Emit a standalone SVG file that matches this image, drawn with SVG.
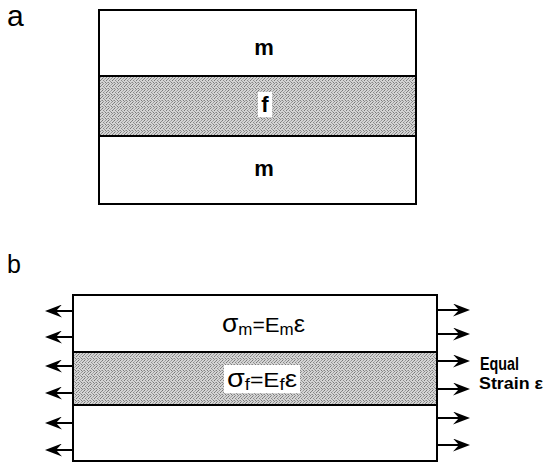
<svg xmlns="http://www.w3.org/2000/svg" width="549" height="465" viewBox="0 0 549 465">
  <style>
    .lbl { font-family: "Liberation Sans", Arial, sans-serif; fill: #000; }
    .box { fill: #fff; stroke: #000; stroke-width: 2; }
    .fib { fill: url(#stip); stroke: #000; stroke-width: 2; }
    .arr { stroke: #000; stroke-width: 2; fill: none; marker-end: url(#ah); }
  </style>
  <defs>
    <pattern id="stip" width="6" height="6" patternUnits="userSpaceOnUse">
      <rect width="6" height="6" fill="#d4d4d4"/>
      <rect x="0" y="0" width="1" height="1" fill="#777"/>
      <rect x="3" y="0" width="1" height="1" fill="#999"/>
      <rect x="5" y="1" width="1" height="1" fill="#888"/>
      <rect x="1" y="2" width="1" height="1" fill="#8a8a8a"/>
      <rect x="4" y="2" width="1" height="1" fill="#777"/>
      <rect x="2" y="3" width="1" height="1" fill="#999"/>
      <rect x="0" y="4" width="1" height="1" fill="#888"/>
      <rect x="3" y="4" width="1" height="1" fill="#7a7a7a"/>
      <rect x="5" y="4" width="1" height="1" fill="#aaa"/>
      <rect x="1" y="5" width="1" height="1" fill="#999"/>
      <rect x="4" y="5" width="1" height="1" fill="#888"/>
      <rect x="2" y="1" width="1" height="1" fill="#aaa"/>
    </pattern>
    <marker id="ah" viewBox="0 0 17 13" refX="10" refY="6.5" markerWidth="17" markerHeight="13" markerUnits="userSpaceOnUse" orient="auto">
      <path d="M0,0 L17,6.5 L0,13 L6,6.5 Z" fill="#000"/>
    </marker>
  </defs>
  <rect width="549" height="465" fill="#fff"/>

  <!-- Panel a -->
  <text class="lbl" x="7" y="26" font-size="30">a</text>
  <g id="a-matrix-top">
    <rect class="box" x="99" y="10" width="317" height="66"/>
    <text class="lbl" x="264" y="55" font-size="22" font-weight="bold" text-anchor="middle">m</text>
  </g>
  <g id="a-fiber">
    <rect class="fib" x="99" y="76" width="317" height="60"/>
    <rect x="258" y="92" width="14" height="25" fill="#fff"/>
    <text class="lbl" x="265" y="112" font-size="22" font-weight="bold" text-anchor="middle">f</text>
  </g>
  <g id="a-matrix-bottom">
    <rect class="box" x="99" y="136" width="317" height="68"/>
    <text class="lbl" x="264" y="176" font-size="22" font-weight="bold" text-anchor="middle">m</text>
  </g>

  <!-- Panel b -->
  <text class="lbl" x="7" y="273" font-size="25">b</text>
  <g id="b-matrix-top">
    <rect class="box" x="73" y="295" width="364" height="57"/>
    <text class="lbl" x="222" y="332" font-size="21" textLength="83" lengthAdjust="spacingAndGlyphs"><tspan font-size="25">σ</tspan><tspan font-size="16" dy="3">m</tspan><tspan font-size="20" dy="-3">=</tspan><tspan>E</tspan><tspan font-size="16" dy="3">m</tspan><tspan font-size="24" dy="-3">ε</tspan></text>
  </g>
  <g id="b-fiber">
    <rect class="fib" x="73" y="352" width="364" height="53"/>
    <rect x="224" y="365" width="76" height="28" fill="#fff"/>
    <text class="lbl" x="227" y="387" font-size="21" textLength="70" lengthAdjust="spacingAndGlyphs"><tspan font-size="25">σ</tspan><tspan font-size="16" dy="3">f</tspan><tspan font-size="20" dy="-3">=</tspan><tspan>E</tspan><tspan font-size="16" dy="3">f</tspan><tspan font-size="24" dy="-3">ε</tspan></text>
  </g>
  <g id="b-matrix-bottom">
    <rect class="box" x="73" y="405" width="364" height="56"/>
  </g>

  <g id="connectors">
    <line class="arr" x1="73" y1="311" x2="52" y2="311"/>
    <line class="arr" x1="73" y1="337" x2="52" y2="337"/>
    <line class="arr" x1="73" y1="366" x2="52" y2="366"/>
    <line class="arr" x1="73" y1="393" x2="52" y2="393"/>
    <line class="arr" x1="73" y1="423" x2="52" y2="423"/>
    <line class="arr" x1="73" y1="450" x2="52" y2="450"/>
    <line class="arr" x1="437" y1="310" x2="463" y2="310"/>
    <line class="arr" x1="437" y1="334" x2="463" y2="334"/>
    <line class="arr" x1="437" y1="361" x2="463" y2="361"/>
    <line class="arr" x1="437" y1="389" x2="463" y2="389"/>
    <line class="arr" x1="437" y1="418" x2="463" y2="418"/>
    <line class="arr" x1="437" y1="445" x2="463" y2="445"/>
  </g>

  <g id="strain-label">
    <text class="lbl" x="480" y="370" font-size="19" font-weight="bold" textLength="39" lengthAdjust="spacingAndGlyphs">Equal</text>
    <text class="lbl" x="479" y="389" font-size="17" font-weight="bold" textLength="64" lengthAdjust="spacingAndGlyphs">Strain ε</text>
  </g>
</svg>
